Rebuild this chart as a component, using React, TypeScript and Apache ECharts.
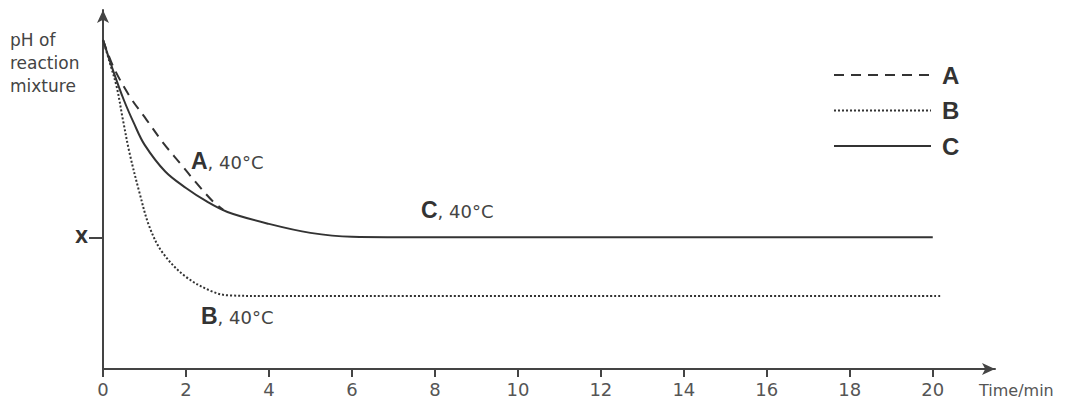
import React, { useEffect, useRef } from "react";
import * as echarts from "echarts";

const timeTicks = [0, 2, 4, 6, 8, 10, 12, 14, 16, 18, 20];
const xLevel = 4.4;

const aTime = [0, 0.25, 0.65, 1.05, 1.45, 1.85, 2.25, 2.65, 2.9];
const aPH = [11.0, 10.1, 9.1, 8.33, 7.56, 6.89, 6.22, 5.6, 5.32];

const bTime = [0, 0.15, 0.33, 0.48, 0.64, 0.88, 1.12, 1.44, 2.0, 2.65, 3.05, 4, 20.2];
const bPH = [11.0, 10.3, 9.43, 8.33, 7.22, 5.89, 4.75, 3.88, 3.08, 2.58, 2.46, 2.44, 2.44];

const cTime = [0, 0.25, 0.5, 0.75, 1, 1.5, 2, 2.5, 3, 4, 5, 6, 8, 20];
const cPH = [11.0, 9.95, 9.0, 8.2, 7.5, 6.6, 6.05, 5.6, 5.25, 4.85, 4.55, 4.42, 4.4, 4.4];

const seriesNames = ["A", "B", "C"];
const annotations = ["A", "B", "C"];

const zip = (xs: number[], ys: number[]) => xs.map((x, i) => [x, ys[i]]);

const INK = "#333";
const AXIS = "#444";
const SANS = "DejaVu Sans";
const NARROW = "Liberation Sans Narrow, Liberation Sans";

export default function App() {
  const ref = useRef<HTMLDivElement>(null);
  useEffect(() => {
    document.body.style.margin = "0";
    const chart = echarts.init(ref.current!, undefined, { renderer: "svg" });
    const lineBase = { type: "line", showSymbol: false, symbol: "none", smooth: 0.35 } as any;
    const annText = (letter: string, left: number, top: number) => ({
      type: "text",
      left,
      top,
      style: {
        text: `{b|${letter}}{r|, 40°C}`,
        rich: {
          b: { fontSize: 23, fontWeight: "bold", fill: INK, fontFamily: NARROW, verticalAlign: "bottom" },
          r: { fontSize: 18, fill: "#444", fontFamily: SANS, verticalAlign: "bottom", padding: [0, 0, 1, 0] },
        },
      },
    });
    chart.setOption({
      animation: false,
      backgroundColor: "#fff",
      grid: { left: 103, top: 10, width: 892, height: 359 },
      xAxis: {
        type: "value",
        min: 0,
        max: 21.5,
        splitLine: { show: false },
        axisLine: { lineStyle: { color: AXIS, width: 2 }, symbol: ["none", "arrow"], symbolSize: [9, 13] },
        axisTick: { customValues: timeTicks, length: 8, lineStyle: { color: AXIS, width: 2 } },
        axisLabel: {
          customValues: timeTicks,
          margin: 11,
          fontSize: 18,
          color: "#555",
          fontFamily: SANS,
        },
      },
      yAxis: {
        type: "value",
        min: 0,
        max: 12,
        splitLine: { show: false },
        axisLine: { show: true, lineStyle: { color: AXIS, width: 2 }, symbol: ["none", "arrow"], symbolSize: [9, 13] },
        axisTick: { show: true, customValues: [xLevel], length: 14, lineStyle: { color: AXIS, width: 2 } },
        axisLabel: {
          customValues: [xLevel],
          formatter: () => "X",
          margin: 15,
          fontSize: 17,
          fontWeight: "bold",
          color: INK,
          fontFamily: SANS,
        },
      },
      legend: {
        orient: "vertical",
        left: 828,
        top: 58,
        itemWidth: 97,
        itemHeight: 14,
        itemGap: 11.5,
        data: seriesNames,
        itemStyle: { color: "rgba(0,0,0,0)", borderColor: "rgba(0,0,0,0)", borderWidth: 0 },
        textStyle: {
          fontSize: 24,
          fontWeight: "bold",
          color: INK,
          lineHeight: 24,
          fontFamily: NARROW,
          padding: [0, 0, 0, 6],
        },
      },
      graphic: [
        {
          type: "text",
          left: 10,
          top: 28,
          style: {
            text: "pH of\nreaction\nmixture",
            fontSize: 17,
            lineHeight: 23,
            fill: "#444",
            fontFamily: SANS,
          },
        },
        {
          type: "text",
          left: 979,
          top: 382,
          style: { text: "Time/min", fontSize: 16, fill: "#555", fontFamily: SANS },
        },
        annText(annotations[0], 191, 149),
        annText(annotations[2], 421, 198),
        annText(annotations[1], 201, 304),
      ],
      series: [
        { ...lineBase, name: seriesNames[0], data: zip(aTime, aPH), lineStyle: { color: INK, width: 2, type: [10, 7] }, itemStyle: { color: INK } },
        { ...lineBase, name: seriesNames[1], data: zip(bTime, bPH), lineStyle: { color: INK, width: 2, type: [2, 2] }, itemStyle: { color: INK } },
        { ...lineBase, name: seriesNames[2], data: zip(cTime, cPH), lineStyle: { color: INK, width: 2, type: "solid" }, itemStyle: { color: INK } },
      ],
    });
    return () => chart.dispose();
  }, []);
  return <div ref={ref} style={{ width: 1070, height: 406 }} />;
}
